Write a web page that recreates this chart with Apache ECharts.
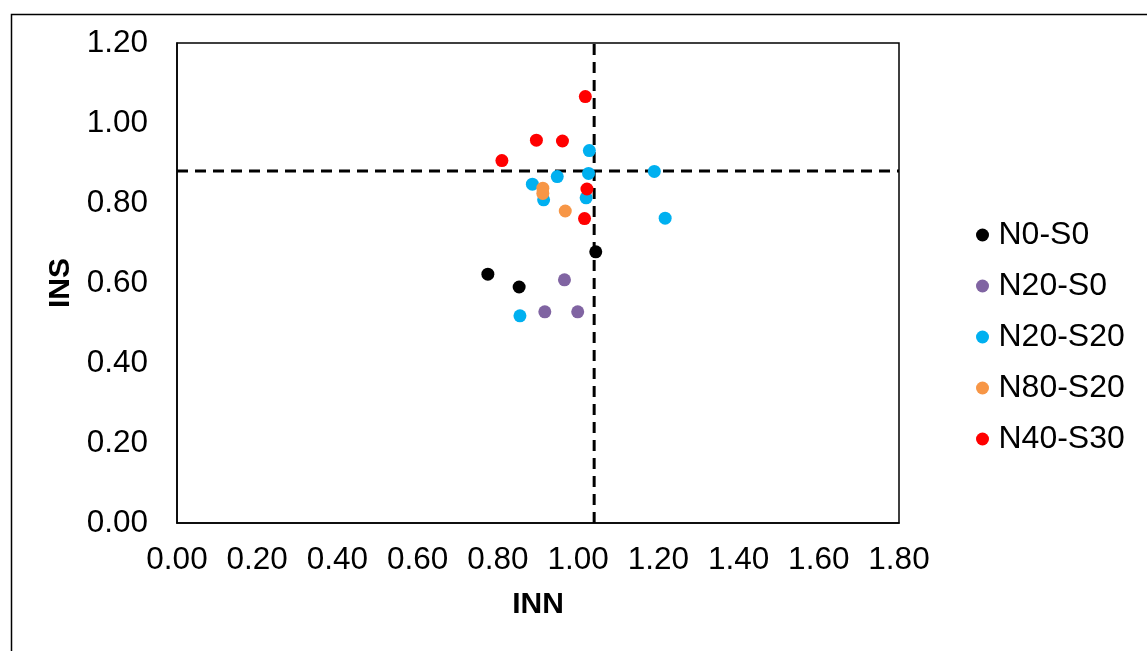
<!DOCTYPE html>
<html>
<head>
<meta charset="utf-8">
<style>
  html, body { margin: 0; padding: 0; background: #ffffff; }
  #chart { width: 1147px; height: 651px; }
</style>
<script src="https://cdn.jsdelivr.net/npm/echarts@6/dist/echarts.min.js"></script>
</head>
<body>
<div id="chart"></div>
<script>
// ---- data (INN, INS) ----
const seriesNames = ['N0-S0', 'N20-S0', 'N20-S20', 'N80-S20', 'N40-S30'];
const seriesColors = ['#000000', '#8064A2', '#00B0F0', '#F79646', '#FF0000'];
const n0s0 = [[1.044, 0.678], [0.775, 0.622], [0.853, 0.590]];
const n20s0 = [[0.966, 0.608], [0.917, 0.528], [0.999, 0.528]];
const n20s20 = [[1.028, 0.931], [1.026, 0.874], [1.190, 0.879], [0.948, 0.866], [0.886, 0.847],
                [0.914, 0.808], [1.020, 0.813], [1.217, 0.762], [0.855, 0.518]];
const n80s20 = [[0.912, 0.837], [0.912, 0.824], [0.968, 0.780]];
const n40s30 = [[1.018, 1.066], [0.896, 0.957], [0.961, 0.955], [0.810, 0.906], [1.022, 0.835], [1.016, 0.761]];
const seriesData = [n0s0, n20s0, n20s20, n80s20, n40s30];
// reference lines
const refINN = 1.04;
const refINS = 0.88;
const xTicks = { min: 0, max: 1.8, interval: 0.2 };
const yTicks = { min: 0, max: 1.2, interval: 0.2 };

const font = "'Liberation Sans', Arial, sans-serif";
const chart = echarts.init(document.getElementById('chart'), null, { renderer: 'canvas' });

const scatterSeries = seriesNames.map((name, i) => ({
  name: name,
  type: 'scatter',
  data: seriesData[i],
  symbol: 'circle',
  symbolSize: 13,
  itemStyle: { color: seriesColors[i], opacity: 1 },
  z: 3
}));

const refStyle = { color: '#000000', width: 3, type: [11, 7] };
const refSeries = [
  { type: 'line', name: 'refV', data: [[refINN, yTicks.min], [refINN, yTicks.max]], symbol: 'none',
    lineStyle: refStyle, itemStyle: { color: '#000' }, silent: true, z: 2 },
  { type: 'line', name: 'refH', data: [[xTicks.min, refINS], [xTicks.max, refINS]], symbol: 'none',
    lineStyle: refStyle, itemStyle: { color: '#000' }, silent: true, z: 2 }
];

chart.setOption({
  backgroundColor: '#ffffff',
  animation: false,
  textStyle: { fontFamily: font },
  graphic: [{
    type: 'rect', left: 9, top: 12, silent: true,
    shape: { x: 0, y: 0, width: 1200, height: 700 },
    style: { fill: 'none', stroke: '#000000', lineWidth: 1.5 }
  }],
  grid: {
    left: 177, top: 43, width: 722, height: 480,
    show: true, borderColor: '#000000', borderWidth: 1.5, backgroundColor: 'transparent'
  },
  legend: {
    data: seriesNames,
    orient: 'vertical',
    left: 971, top: 214,
    itemWidth: 22, itemHeight: 13,
    itemGap: 19,
    icon: 'circle',
    itemStyle: { opacity: 1 },
    textStyle: { fontSize: 32, color: '#000000', fontFamily: font }
  },
  xAxis: {
    type: 'value', min: xTicks.min, max: xTicks.max, interval: xTicks.interval,
    name: 'INN', nameLocation: 'middle', nameGap: 67,
    nameTextStyle: { fontSize: 30, fontWeight: 'bold', color: '#000000', fontFamily: font },
    axisLine: { show: true, onZero: false, lineStyle: { color: '#000000', width: 1.5 } },
    axisTick: { show: false },
    splitLine: { show: false },
    axisLabel: { fontSize: 31.5, color: '#000000', margin: 21, fontFamily: font,
      formatter: v => v.toFixed(2) }
  },
  yAxis: {
    type: 'value', min: yTicks.min, max: yTicks.max, interval: yTicks.interval,
    name: 'INS', nameLocation: 'middle', nameGap: 96,
    nameTextStyle: { fontSize: 30, fontWeight: 'bold', color: '#000000', fontFamily: font },
    axisLine: { show: true, onZero: false, lineStyle: { color: '#000000', width: 1.5 } },
    axisTick: { show: false },
    splitLine: { show: false },
    axisLabel: { fontSize: 31.5, color: '#000000', margin: 29, fontFamily: font,
      formatter: v => v.toFixed(2) }
  },
  series: scatterSeries.concat(refSeries)
});
</script>
</body>
</html>
